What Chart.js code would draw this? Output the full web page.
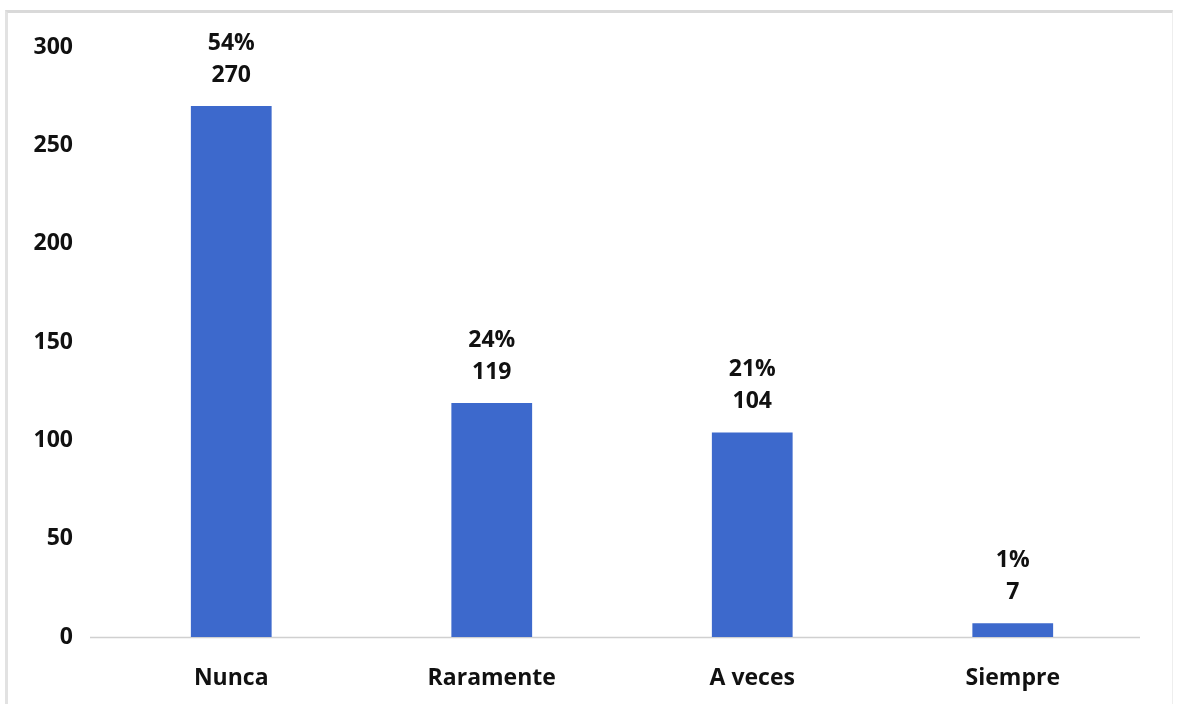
<!DOCTYPE html>
<html>
<head>
<meta charset="utf-8">
<script src="https://cdn.jsdelivr.net/npm/chart.js@4/dist/chart.umd.min.js"></script>
<style>
  html, body { margin: 0; padding: 0; background: #ffffff; }
  #wrap { position: absolute; left: 5px; top: 10px; width: 1168px; height: 694px;
          border-top: 3px solid #d9d9d9; border-left: 3px solid #e2e2e2; border-right: 1px solid #eeeeee; box-sizing: border-box; }
  canvas { display: block; }
</style>
</head>
<body>
<div id="wrap"><canvas id="c"></canvas></div>
<script>
const categories = ["Nunca", "Raramente", "A veces", "Siempre"];
const counts = [270, 119, 104, 7];
const percents = ["54%", "24%", "21%", "1%"];
const yTicks = [0, 50, 100, 150, 200, 250, 300];

const FONT = "'Open Sans', Lato, sans-serif";
const FSIZE = 23;

const labelPlugin = {
  id: 'barLabels',
  beforeDatasetsDraw(chart) {
    const ctx = chart.ctx;
    const a = chart.chartArea;
    ctx.save();
    ctx.strokeStyle = '#d0d0d0';
    ctx.lineWidth = 1.5;
    ctx.beginPath();
    ctx.moveTo(a.left - 11, a.bottom + 0.5);
    ctx.lineTo(a.right - 3, a.bottom + 0.5);
    ctx.stroke();
    ctx.restore();
  },
  afterDatasetsDraw(chart) {
    const ctx = chart.ctx;
    const meta = chart.getDatasetMeta(0);
    ctx.save();
    ctx.fillStyle = '#111111';
    ctx.font = "bold " + FSIZE + "px " + FONT;
    ctx.textAlign = 'center';
    ctx.textBaseline = 'middle';
    meta.data.forEach((bar, i) => {
      ctx.fillText(String(counts[i]), bar.x, bar.y - 31);
      ctx.fillText(percents[i], bar.x, bar.y - 63);
    });
    ctx.restore();
  }
};

new Chart(document.getElementById('c'), {
  type: 'bar',
  data: {
    labels: categories,
    datasets: [{
      data: counts,
      backgroundColor: '#3d69cc',
      borderWidth: 0,
      barPercentage: 0.62,
      categoryPercentage: 0.5
    }]
  },
  options: {
    responsive: true,
    maintainAspectRatio: false,
    animation: false,
    layout: { padding: { left: 0, right: 29, top: 34, bottom: 0 } },
    plugins: { legend: { display: false }, tooltip: { enabled: false } },
    scales: {
      x: {
        afterFit(axis) { axis.height = 67; axis.paddingLeft = 0; axis.paddingRight = 0; },
        grid: { display: false, drawTicks: false },
        border: { display: false },
        ticks: { color: '#111111', font: { family: FONT, size: FSIZE, weight: 'bold' }, padding: 28 }
      },
      y: {
        min: 0, max: 300,
        afterFit(axis) { axis.width = 93; axis.paddingTop = 0; axis.paddingBottom = 0; },
        afterBuildTicks(axis) { axis.ticks = yTicks.map(v => ({ value: v })); },
        grid: { display: false, drawTicks: false },
        border: { display: false },
        ticks: { color: '#111111', font: { family: FONT, size: FSIZE, weight: 'bold' }, padding: 28 }
      }
    }
  },
  plugins: [labelPlugin]
});
</script>
</body>
</html>
